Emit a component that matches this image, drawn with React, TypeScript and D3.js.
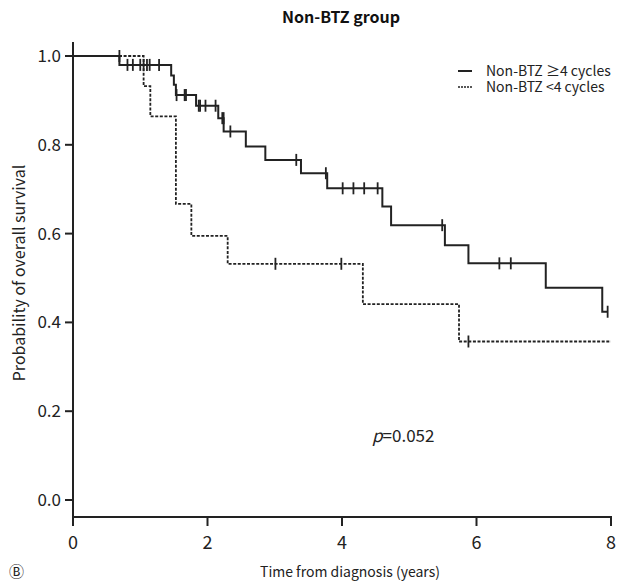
import React from "react";
import * as d3 from "d3";

// Kaplan-Meier steps
const solidTimes = [0, 0.69, 1.46, 1.5, 1.53, 1.83, 2.16, 2.24, 2.57, 2.86, 3.39, 3.78, 4.6, 4.73, 5.53, 5.88, 7.03, 7.87];
const solidSurv = [1.0, 0.98, 0.956, 0.935, 0.912, 0.888, 0.86, 0.83, 0.796, 0.766, 0.736, 0.702, 0.661, 0.619, 0.574, 0.533, 0.478, 0.424];
const solidEnd = 7.95;
const solidCensor = [0.69, 0.81, 0.89, 1.0, 1.05, 1.1, 1.14, 1.28, 1.54, 1.66, 1.68, 1.87, 1.89, 1.97, 2.12, 2.22, 2.24, 2.34, 3.32, 3.76, 4.01, 4.17, 4.33, 4.53, 5.49, 6.34, 6.51, 7.95];

const dashTimes = [0, 1.05, 1.15, 1.53, 1.76, 2.3, 4.31, 5.74];
const dashSurv = [1.0, 0.932, 0.864, 0.667, 0.595, 0.532, 0.441, 0.357];
const dashEnd = 8.0;
const dashCensor = [3.01, 3.99, 5.88];

const xTicks = [0, 2, 4, 6, 8];
const yTicks = [0, 0.2, 0.4, 0.6, 0.8, 1.0];
const seriesLabels = ["Non-BTZ \u22654 cycles", "Non-BTZ <4 cycles"];

const font = "'Noto Sans CJK KR', 'Noto Sans', sans-serif";

const survAt = (times: number[], surv: number[], t: number) => {
  let v = surv[0];
  times.forEach((tt, i) => {
    if (tt < t) v = surv[i];
  });
  return v;
};

const App = () => {
  const x = d3.scaleLinear().domain([0, 8]).range([73, 611]);
  const y = d3.scaleLinear().domain([0, 1]).range([500, 56]);
  const axisY = 517;

  const line = d3
    .line<[number, number]>()
    .x(d => x(d[0]))
    .y(d => y(d[1]))
    .curve(d3.curveStepAfter);

  const pts = (times: number[], surv: number[], end: number): [number, number][] => [
    ...times.map((t, i) => [t, surv[i]] as [number, number]),
    [end, surv[surv.length - 1]],
  ];

  const censorMarks = (times: number[], surv: number[], cens: number[], key: string) =>
    cens.map((c, i) => {
      const v = survAt(times, surv, c);
      return (
        <line key={key + i} x1={x(c)} x2={x(c)} y1={y(v) - 6} y2={y(v) + 6} stroke="#222" strokeWidth={1.8} />
      );
    });

  return (
    <svg width={623} height={581} style={{ position: "absolute", left: 0, top: 0 }} fontFamily={font}>
      <rect width={623} height={581} fill="white" />
      <text x={341} y={23} textAnchor="middle" fontSize={16} fontWeight="bold" fill="#111">
        Non-BTZ group
      </text>

      {/* axes */}
      <line x1={73} x2={73} y1={42} y2={axisY} stroke="#222" strokeWidth={2} />
      <line x1={72} x2={x(8) + 1} y1={axisY} y2={axisY} stroke="#222" strokeWidth={2} />
      {xTicks.map(t => (
        <g key={"xt" + t}>
          <line x1={x(t)} x2={x(t)} y1={axisY} y2={axisY + 9} stroke="#222" strokeWidth={2} />
          <text x={x(t)} y={549} textAnchor="middle" fontSize={18} fill="#222">
            {t}
          </text>
        </g>
      ))}
      {yTicks.map(t => (
        <g key={"yt" + t}>
          <line x1={65} x2={73} y1={y(t)} y2={y(t)} stroke="#222" strokeWidth={2} />
          <text x={61} y={y(t) + 6} textAnchor="end" fontSize={17} fill="#222">
            {d3.format(".1f")(t)}
          </text>
        </g>
      ))}
      <text x={350} y={577} textAnchor="middle" fontSize={14} fill="#222">
        Time from diagnosis (years)
      </text>
      <text transform="translate(25,273) rotate(-90)" textAnchor="middle" fontSize={16} fill="#222">
        Probability of overall survival
      </text>
      <text x={9} y={577} fontSize={15} fill="#222">
        {"\u24B7"}
      </text>

      {/* curves */}
      <path d={line(pts(dashTimes, dashSurv, dashEnd)) || ""} fill="none" stroke="#222" strokeWidth={1.8} strokeDasharray="3,1.6" />
      {censorMarks(dashTimes, dashSurv, dashCensor, "dc")}
      <path d={line(pts(solidTimes, solidSurv, solidEnd)) || ""} fill="none" stroke="#222" strokeWidth={2} />
      {censorMarks(solidTimes, solidSurv, solidCensor, "sc")}

      {/* legend */}
      <line x1={458} x2={472} y1={71} y2={71} stroke="#222" strokeWidth={2} />
      <line x1={458} x2={472} y1={87} y2={87} stroke="#222" strokeWidth={1.6} strokeDasharray="2,1" />
      <text x={486} y={76} fontSize={14} fill="#222">{seriesLabels[0]}</text>
      <text x={486} y={92} fontSize={14} fill="#222">{seriesLabels[1]}</text>

      <text x={372} y={442} fontSize={17} fill="#222">
        <tspan fontStyle="italic">p</tspan>=0.052
      </text>
    </svg>
  );
};

export default App;
